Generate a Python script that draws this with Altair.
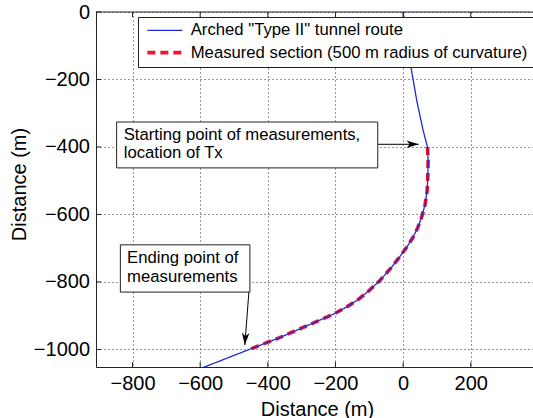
import altair as alt
import pandas as pd

# ---- data (metres) ----
series_names = ['Arched "Type II" tunnel route', 'Measured section (500 m radius of curvature)']
series_colors = ["#1f2bd6", "#f2132b"]

route_x = [0, 23, 40, 59, 72, 74, 73, 71, 65, 55, 43, 28, 10, -12, -37, -68, -100, -130, -165, -205, -285, -365, -455, -600]
route_y = [0, -162, -261, -350, -400, -440, -490, -530, -570, -607, -640, -670, -698, -728, -760, -795, -825, -850, -873, -895, -930, -965, -1000, -1057]

section_x = [72, 74, 73, 71, 65, 55, 43, 28, 10, -12, -37, -68, -100, -130, -165, -205, -285, -365, -455]
section_y = [-400, -440, -490, -530, -570, -607, -640, -670, -698, -728, -760, -795, -825, -850, -873, -895, -930, -965, -1000]

x_ticks = [-800, -600, -400, -200, 0, 200]
y_ticks = [0, -200, -400, -600, -800, -1000]

# annotations (data units)
note_text = ["Starting point of measurements,\nlocation of Tx", "Ending point of\nmeasurements"]
note_box_x1 = [-847, -836]
note_box_x2 = [-75, -453]
note_box_y1 = [-326, -690]
note_box_y2 = [-462, -830]
note_text_x = [-826, -816]
note_text_y = [-364, -730]
arrow_tail_x = [-74, -456]
arrow_tail_y = [-392, -830]
arrow_tip_x = [46, -468]
arrow_tip_y = [-392, -987]
arrow_angle = [0, 94]

W, H = 437, 355
FONT = "Liberation Sans"

xs = alt.Scale(domain=[-908, 384], nice=False, zero=False)
ys = alt.Scale(domain=[-1052, 0], nice=False, zero=False)

route_df = pd.DataFrame({"x": route_x, "y": route_y, "series": series_names[0], "o": range(len(route_x))})
section_df = pd.DataFrame({"x": section_x, "y": section_y, "series": series_names[1], "o": range(len(section_x))})

legend = alt.Legend(
    orient="none", legendX=42, legendY=5, title=None,
    fillColor="white", strokeColor="#222", padding=5,
    labelFont=FONT, labelFontSize=16.7, labelColor="black", labelLimit=600,
    symbolType="M-0.8,0L6.2,0", symbolSize=100, labelOffset=31, rowPadding=4.3,
)
color_enc = alt.Color("series:N", scale=alt.Scale(domain=series_names, range=series_colors), legend=legend)
dash_enc = alt.StrokeDash("series:N", scale=alt.Scale(domain=series_names, range=[[1, 0], [8, 5]]), legend=legend)
width_enc = alt.StrokeWidth("series:N", scale=alt.Scale(domain=series_names, range=[1.3, 3.6]), legend=legend)

x_axis = alt.Axis(
    values=x_ticks, format="d", grid=True, gridDash=[1, 3], gridColor="#333", gridWidth=1,
    ticks=False, tickSize=0, domainColor="#222", labelFont=FONT, labelFontSize=20,
    labelColor="black", labelPadding=22, labelBaseline="alphabetic",
    title="Distance (m)", titleFont=FONT, titleFontSize=20, titleFontWeight="normal",
    titleColor="black", titleX=221, titleY=48, titleBaseline="alphabetic", titleAlign="center",
)
y_axis = alt.Axis(
    values=y_ticks, format="d", grid=True, gridDash=[1, 3], gridColor="#333", gridWidth=1,
    ticks=False, tickSize=0, domainColor="#222", labelFont=FONT, labelFontSize=20,
    labelColor="black", labelPadding=6.5,
    title="Distance (m)", titleFont=FONT, titleFontSize=20, titleFontWeight="normal",
    titleColor="black", titleX=-77, titleY=172, titleBaseline="middle", titleAlign="center",
)

def X(field):
    return alt.X(field, scale=xs, axis=x_axis)

def Y(field):
    return alt.Y(field, scale=ys, axis=y_axis)

red = alt.Chart(section_df).mark_line(clip=True).encode(
    x=X("x:Q"), y=Y("y:Q"),
    order="o:Q", color=color_enc, strokeDash=dash_enc, strokeWidth=width_enc,
)
blue = alt.Chart(route_df).mark_line(clip=True).encode(
    x=X("x:Q"), y=Y("y:Q"),
    order="o:Q", color=color_enc, strokeDash=dash_enc, strokeWidth=width_enc,
)

xt = pd.DataFrame({"x": x_ticks})
yt = pd.DataFrame({"y": y_ticks})
tick_bottom = alt.Chart(xt).mark_rule(color="#222", strokeWidth=1).encode(
    x=X("x:Q"), y=alt.value(H), y2=alt.value(H - 5))
tick_top = alt.Chart(xt).mark_rule(color="#222", strokeWidth=1).encode(
    x=X("x:Q"), y=alt.value(0), y2=alt.value(5))
tick_left = alt.Chart(yt).mark_rule(color="#222", strokeWidth=1).encode(
    y=Y("y:Q"), x=alt.value(0), x2=alt.value(5))
top_border = alt.Chart(pd.DataFrame({"a": [0]})).mark_rule(color="#222", strokeWidth=1).encode(
    x=alt.value(0), x2=alt.value(W), y=alt.value(0))

notes_df = pd.DataFrame({
    "t": note_text, "bx1": note_box_x1, "bx2": note_box_x2, "by1": note_box_y1, "by2": note_box_y2,
    "tx": note_text_x, "ty": note_text_y,
    "ax1": arrow_tail_x, "ay1": arrow_tail_y, "ax2": arrow_tip_x, "ay2": arrow_tip_y, "ang": arrow_angle,
})
boxes = alt.Chart(notes_df).mark_rect(fill="white", stroke="#222", strokeWidth=1).encode(
    x=X("bx1:Q"), x2="bx2:Q", y=Y("by1:Q"), y2="by2:Q")
texts = alt.Chart(notes_df).mark_text(
    align="left", baseline="middle", font=FONT, fontSize=16.7, lineHeight=18.3, lineBreak="\n", color="black"
).encode(x=X("tx:Q"), y=Y("ty:Q"), text="t:N")
shafts = alt.Chart(notes_df).mark_rule(color="black", strokeWidth=1).encode(
    x=X("ax1:Q"), x2="ax2:Q", y=Y("ay1:Q"), y2="ay2:Q")
heads = alt.Chart(notes_df).mark_point(
    shape="M0,0 L-2,-0.62 L-1.45,0 L-2,0.62 Z", filled=True, color="black", opacity=1, size=150
).encode(x=X("ax2:Q"), y=Y("ay2:Q"), angle=alt.Angle("ang:Q", scale=None))

chart = alt.layer(
    red, blue, tick_bottom, tick_top, tick_left, top_border, boxes, texts, shafts, heads
).properties(
    width=W, height=H,
    autosize=alt.AutoSizeParams(type="none"),
    padding={"left": 96, "top": 12, "right": 0, "bottom": 51},
    background="white",
).configure_view(stroke=None)

chart.save("out.html", embed_options={"renderer": "svg", "actions": False})
